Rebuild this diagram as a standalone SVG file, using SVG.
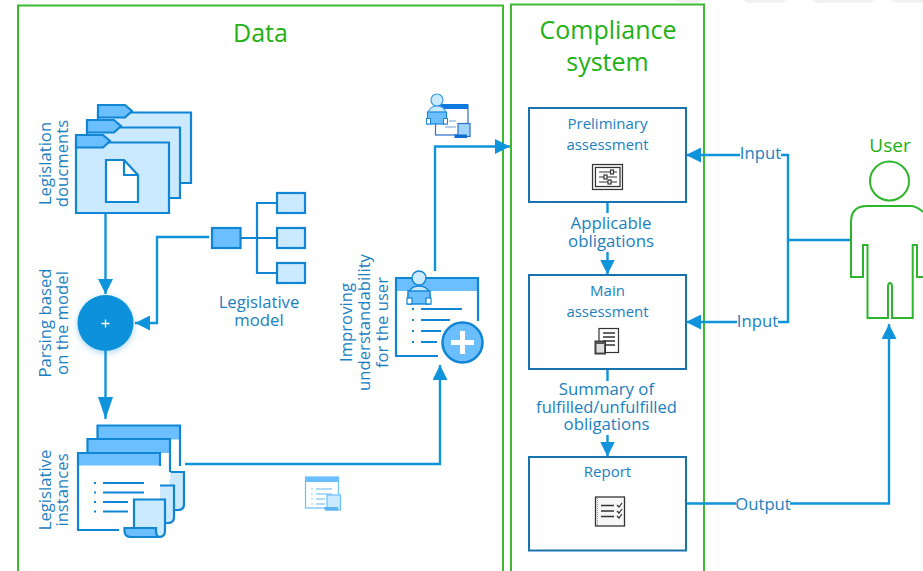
<svg xmlns="http://www.w3.org/2000/svg" xmlns:xlink="http://www.w3.org/1999/xlink" width="923" height="571" viewBox="0 0 923 571">
<style>
text{font-family:"Open Sans","Noto Sans","Liberation Sans",sans-serif;fill:#1a80c0;text-anchor:middle}
.t14{font-size:15px}.t16{font-size:16.8px}.t15{font-size:16.7px}
.g{fill:#22b014;font-size:25px}
.panel{fill:none;stroke:#3dba2e;stroke-width:2}
.box{fill:#fff;stroke:#1673ad;stroke-width:2}
.ln{fill:none;stroke:#0f94dc;stroke-width:2.4}
.ic{stroke:#0f85d4;stroke-width:2.2;fill:#cbe9ff}
.dk{fill:#6cbfff}
.band{fill:#6cbfff;stroke:none}
.edge{fill:none;stroke:#0f85d4;stroke-width:2.2}
.thin{fill:none;stroke:#0f85d4;stroke-width:2}
.gi{fill:#fff;stroke:#333;stroke-width:1.2}
.gl{fill:none;stroke:#333;stroke-width:1.2}
.head{fill:#0f94dc}
.user{fill:none;stroke:#2db52d;stroke-width:2}
</style>
<defs>
<marker id="arr" viewBox="0 0 15 15" refX="15" refY="7.5" markerUnits="userSpaceOnUse" markerWidth="15" markerHeight="15" orient="auto"><path d="M0 0L15 7.500L0 15Z" class="head"/></marker>
<marker id="arrLong" viewBox="0 0 22 15" refX="22" refY="7.5" markerUnits="userSpaceOnUse" markerWidth="22" markerHeight="15" orient="auto"><path d="M0 0L22 7.500L0 15Z" class="head"/></marker>
<filter id="sh" x="-30%" y="-30%" width="160%" height="160%"><feDropShadow dx="0" dy="2" stdDeviation="3" flood-color="#0f85d4" flood-opacity="0.35"/></filter>
<g id="folder">
<path d="M0 7.500H93V78H0Z" class="ic"/>
<path d="M0 0H27L34 6L27 12.500H0Z" class="ic dk"/>
</g>
</defs>

<path d="M672 0H702L697 3H682ZM743 0H787L782 3H748ZM812 0H875L870 3H817ZM891 0H923V3H896Z" fill="#f1f1f1"/>

<g id="data-panel">
<path d="M18 571V5.500H503V571" class="panel"/>
<text x="260.500" y="42" class="g">Data</text>
</g>
<g id="compliance-panel">
<path d="M511 571V4.500H704V571" class="panel"/>
<text x="608" y="39" class="g">Compliance</text>
<text x="607.500" y="71" class="g">system</text>
</g>

<g id="connectors">
<path d="M105.500 213V294" class="ln" marker-end="url(#arr)"/>
<path d="M105.500 351V419" class="ln" marker-end="url(#arrLong)"/>
<path d="M209 237H157V323H135" class="ln" marker-end="url(#arr)"/>
<path d="M185 464H440V365" class="ln" marker-end="url(#arr)"/>
<path d="M435 271V146.500H510" class="ln" marker-end="url(#arr)"/>
<path d="M607.500 202V213" class="ln"/>
<path d="M607.500 252V274.500" class="ln" marker-end="url(#arr)"/>
<path d="M607.500 369V381" class="ln"/>
<path d="M607.500 435V456.500" class="ln" marker-end="url(#arr)"/>
<path d="M740 155H686" class="ln" marker-end="url(#arr)"/>
<path d="M737 322H686" class="ln" marker-end="url(#arr)"/>
<path d="M781 155H788V322H778M788 240H851" class="ln"/>
<path d="M686 503.500H736M790 503.500H889V324" class="ln" marker-end="url(#arr)"/>
</g>

<g id="legislation-documents">
<use xlink:href="#folder" x="98" y="105"/>
<use xlink:href="#folder" x="87" y="120"/>
<use xlink:href="#folder" x="76" y="135"/>
<path d="M106 160H124L138 175V202H106Z" class="ic" style="fill:#fff"/>
<path d="M124 160V175H138" class="edge"/>
<g transform="translate(51,163.500) rotate(-90)"><text class="t15">Legislation</text><text y="17" class="t15">doucments</text></g>
</g>

<g id="legislative-model">
<rect x="212" y="228" width="28.500" height="20" class="ic dk"/>
<path d="M240 238H277M277 203H257V273H277" class="edge"/>
<rect x="277" y="193" width="28" height="20" class="ic"/>
<rect x="277" y="228" width="28" height="20" class="ic"/>
<rect x="277" y="263" width="28" height="20" class="ic"/>
<text x="259" y="308" class="t15">Legislative</text>
<text x="259" y="325.500" class="t15">model</text>
</g>

<g id="parsing">
<circle cx="105.500" cy="323" r="28" fill="#0791da" filter="url(#sh)"/>
<path d="M105.500 319.500V327.500M101.500 323.500H109.500" stroke="#fff" stroke-width="1.300" fill="none"/>
<g transform="translate(51,323) rotate(-90)"><text class="t15">Parsing based</text><text y="17" class="t15">on the model</text></g>
</g>

<g id="legislative-instances">
<rect x="97.500" y="425.500" width="83" height="40" fill="#fff"/>
<rect x="97.500" y="425.500" width="83" height="14" class="band"/>
<path d="M97.500 439V425.500H180V466" class="edge"/>
<path d="M170 472H184V504Q184 510 178 510H168" class="ic"/>
<rect x="87.500" y="439" width="83" height="40" fill="#fff"/>
<rect x="87.500" y="439" width="83" height="14" class="band"/>
<path d="M87.500 453V439H170V472" class="edge"/>
<path d="M160 485.500H174V517Q174 523 168 523H158" class="ic"/>
<rect x="78" y="453" width="82" height="77" fill="#fff"/>
<rect x="78" y="453" width="82" height="12.500" class="band"/>
<path d="M119 530H78V453H160V466" class="edge"/>
<path d="M103 483H144M103 492.500H144M103 502H128M103 511.500H128" class="thin"/>
<path d="M94 483h2M94 492.500h2M94 502h2M94 511.500h2" class="thin"/>
<path d="M134 499.500H165V531Q165 537 159 537H150V528H134Z" class="ic"/>
<path d="M124.500 528H156V531Q156 537 160 537H131Q124.500 537 124.500 531Z" class="ic dk"/>
<g transform="translate(51,490) rotate(-90)"><text class="t15">Legislative</text><text y="17" class="t15">instances</text></g>
</g>

<g id="instance-icon">
<rect x="305.500" y="477" width="33" height="31" fill="#fff" stroke="#6cbfff" stroke-width="1.200"/>
<rect x="305.500" y="477" width="33" height="5" fill="#6cbfff"/>
<path d="M316 489H332M316 494H332M316 499H325M316 504H325" stroke="#5fb4f0" stroke-width="1.200"/>
<path d="M311 489h2M311 494h2M311 499h2M311 504h2" stroke="#8ecdf5" stroke-width="1.200"/>
<rect x="327" y="495" width="13.500" height="15" fill="#cbe9ff" stroke="#6cbfff" stroke-width="1.200"/>
<path d="M324 507H338V510.500H326Q324 510 324 507Z" fill="#5fb4f0"/>
</g>

<g id="understandability">
<rect x="396" y="278" width="82" height="78" fill="#fff"/>
<rect x="396" y="278" width="82" height="13" class="band"/>
<path d="M438 356H396V278H478V321" class="edge"/>
<path d="M421 309H462M421 320H450M421 331H441M421 342H437" class="thin"/>
<path d="M412 309h2M412 320h2M412 331h2M412 342h2" class="thin"/>
<circle cx="419" cy="278" r="7" fill="#cbe9ff" stroke="#0f85d4" stroke-width="1.400"/>
<path d="M408 296Q409 286 419 286Q429 286 430 296Z" fill="#cbe9ff" stroke="#0f85d4" stroke-width="1.400"/>
<rect x="408" y="291" width="22" height="13" fill="#6cbfff" stroke="#0f85d4" stroke-width="1.400"/>
<rect x="407" y="298" width="5" height="6" fill="#fff" stroke="#0f85d4" stroke-width="1.200"/>
<rect x="426" y="298" width="5" height="6" fill="#fff" stroke="#0f85d4" stroke-width="1.200"/>
<circle cx="462.500" cy="342.500" r="20" fill="#6cbfff" stroke="#0f85d4" stroke-width="2.500"/>
<path d="M462.500 331V354M451 342.500H474" stroke="#fff" stroke-width="5" fill="none"/>
<g transform="translate(352,322.500) rotate(-90)"><text class="t15">Improving</text><text y="17.500" class="t15">understandability</text><text y="35.500" class="t15">for the user</text></g>
</g>

<g id="user-icon-small">
<rect x="435.500" y="105" width="32.500" height="30" fill="#fff" stroke="#2b6fc9" stroke-width="1.200"/>
<rect x="435.500" y="104" width="32.500" height="5" fill="#0f7be0"/>
<path d="M449 121H456M445 127H456" stroke="#6f9fdc" stroke-width="1.200"/>
<rect x="458" y="123.500" width="12" height="13" fill="#9fd4ff" stroke="#2b6fc9" stroke-width="1.200"/>
<rect x="454.500" y="134.500" width="12.500" height="3.500" fill="#0f6fd0"/>
<circle cx="437" cy="100" r="6" fill="#cbe9ff" stroke="#3a9be0" stroke-width="1.200"/>
<path d="M428 114Q429 106 437 106Q445 106 446 114Z" fill="#cbe9ff" stroke="#3a9be0" stroke-width="1.200"/>
<rect x="427.500" y="112" width="19" height="12" fill="#6cbfff" stroke="#1f86d6" stroke-width="1.200"/>
<rect x="426.500" y="118.500" width="4" height="5.500" fill="#fff" stroke="#1f86d6"/>
<rect x="443.500" y="118.500" width="4" height="5.500" fill="#fff" stroke="#1f86d6"/>
</g>

<g id="preliminary-assessment">
<rect x="529" y="108" width="157" height="94" class="box"/>
<text x="607.500" y="129" class="t14">Preliminary</text>
<text x="607.500" y="149.500" class="t14">assessment</text>
<rect x="592.500" y="164.500" width="30" height="25" fill="#f2f2f2" stroke="#333" stroke-width="1.200"/>
<rect x="595.500" y="167.500" width="24.500" height="19" class="gi"/>
<path d="M599 172H617M599 177H617M599 182H617" class="gl"/>
<rect x="610.500" y="170" width="3" height="4" class="gi"/>
<rect x="604" y="175" width="3" height="4" class="gi"/>
<rect x="608" y="180" width="3" height="4" class="gi"/>
</g>

<g id="main-assessment">
<rect x="529" y="275" width="157" height="94" class="box"/>
<text x="607.500" y="296" class="t14">Main</text>
<text x="607.500" y="317" class="t14">assessment</text>
<rect x="599" y="328.500" width="19.500" height="24" class="gi"/>
<path d="M603 333H615M603 337H615M603 341H615M603 345H615" stroke="#333" stroke-width="1.300"/>
<rect x="595" y="341" width="10.500" height="13" fill="#555" stroke="#333"/>
<rect x="596.500" y="344" width="7.500" height="8.500" fill="#ddd"/>
</g>

<g id="report">
<rect x="529" y="457" width="157" height="93.500" class="box"/>
<text x="607.500" y="477" class="t14">Report</text>
<rect x="595.500" y="497" width="29" height="29" fill="#f7f7f7" stroke="#333" stroke-width="1.300"/>
<path d="M597.500 498V525" stroke="#999" stroke-width="1" stroke-dasharray="1 1"/>
<path d="M601 505.500H614M601 511H614M601 516.500H614" stroke="#333" stroke-width="1.300"/>
<path d="M617 505L619 507L622 503M617 511L619 513L622 509M617 516L619 518L622 514" class="gl"/>
</g>

<g id="labels">
<text x="611" y="229" class="t16">Applicable</text>
<text x="611" y="247" class="t16">obligations</text>
<text x="606.500" y="395" class="t16">Summary of</text>
<text x="606.500" y="412.500" style="font-size:16.500px">fulfilled/unfulfilled</text>
<text x="606.500" y="430" class="t16">obligations</text>
<text x="760.500" y="159" class="t15">Input</text>
<text x="757.500" y="327" class="t15">Input</text>
<text x="763" y="509.500" class="t15">Output</text>
</g>

<g id="user">
<text x="890" y="152" class="g" style="font-size:19px">User</text>
<circle cx="889.500" cy="181" r="19.500" class="user"/>
<path d="M923 277H917V245H912.700V318H892V287Q892 283 890 283Q888 283 888 287V318H867.500V245H863V277H851V222Q851 206 867 206H910Q917 206 923 212" class="user"/>
</g>
</svg>
